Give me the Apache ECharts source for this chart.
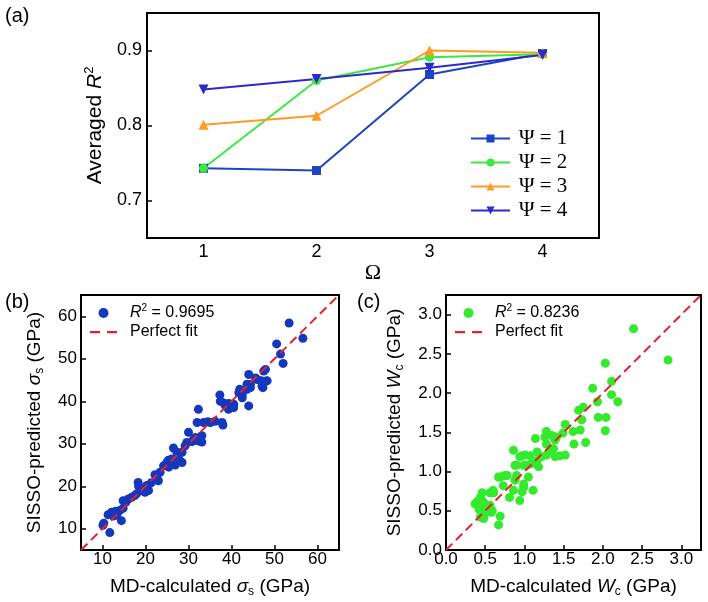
<!DOCTYPE html>
<html><head><meta charset="utf-8">
<script src="https://cdn.jsdelivr.net/npm/echarts@6/dist/echarts.min.js"></script>
<style>html,body{margin:0;padding:0;background:#fff}#c{width:708px;height:602px}</style>
</head><body><div id="c"></div>
<script>
// ---------- data ----------
const omega = ['1', '2', '3', '4'];
const psi1 = [0.743, 0.740, 0.868, 0.896];
const psi2 = [0.743, 0.860, 0.891, 0.895];
const psi3 = [0.801, 0.813, 0.900, 0.897];
const psi4 = [0.848, 0.862, 0.877, 0.894];
const psiNames = ['Ψ = 1', 'Ψ = 2', 'Ψ = 3', 'Ψ = 4'];
const ticksA = [0.7, 0.8, 0.9];

const mdSigma = [10.1,10.3,11.7,11.3,12.1,12.5,13.0,13.3,14.0,14.4,14.8,14.8,15.4,16.0,16.8,17.5,17.9,18.3,18.4,18.9,19.3,19.9,20.3,20.7,21.3,22.2,22.6,23.0,23.4,24.2,25.0,25.3,25.4,26.1,26.5,26.9,27.3,27.7,28.1,28.5,28.5,29.2,29.6,30.0,30.8,31.2,31.6,32.1,32.3,32.0,33.1,33.1,33.5,34.5,35.1,36.2,37.8,38.0,37.3,37.4,38.2,38.6,39.3,39.4,40.5,40.5,41.7,41.9,42.5,42.5,43.6,43.6,44.0,44.0,44.4,44.4,45.6,46.0,46.9,47.1,47.3,47.5,47.9,47.9,48.3,50.5,51.4,52.0,53.4,56.6];
const sissoSigma = [10.8,11.3,9.1,13.3,13.9,13.0,14.1,13.2,14.3,11.9,16.6,14.8,16.2,17.0,17.4,17.8,18.2,20.9,20.0,19.5,18.9,18.6,20.2,19.0,20.8,22.7,22.0,21.3,23.3,24.8,25.6,26.1,24.5,26.4,29.0,25.0,28.0,26.4,25.9,28.0,25.6,29.5,30.3,32.7,30.5,31.1,31.5,30.7,38.1,35.0,31.9,30.4,35.0,35.2,35.0,35.3,35.0,34.4,41.5,40.0,39.6,38.9,38.1,39.5,38.5,39.3,42.0,42.8,41.6,40.8,44.0,42.8,38.9,46.3,43.2,44.0,45.5,45.1,44.8,43.6,43.2,47.1,47.5,44.7,44.8,53.5,51.1,48.9,58.4,54.8];
const ticksB = [10, 20, 30, 40, 50, 60];
const fitB = [5, 65];

const mdW = [0.37,0.40,0.42,0.44,0.44,0.46,0.46,0.48,0.48,0.50,0.52,0.56,0.56,0.58,0.59,0.61,0.60,0.67,0.67,0.69,0.69,0.73,0.75,0.78,0.81,0.86,0.86,0.88,0.88,0.90,0.90,0.94,0.94,0.97,0.97,0.99,0.99,0.99,1.01,1.03,1.05,1.07,1.09,1.11,1.14,1.16,1.16,1.18,1.22,1.26,1.28,1.28,1.28,1.33,1.35,1.37,1.39,1.39,1.41,1.45,1.49,1.52,1.52,1.62,1.63,1.69,1.71,1.73,1.75,1.78,1.87,1.93,1.94,2.03,2.04,2.03,2.11,2.11,2.19,2.39,2.83];
const sissoW = [0.59,0.62,0.52,0.42,0.67,0.73,0.57,0.61,0.40,0.47,0.52,0.73,0.57,0.48,0.50,0.73,0.76,0.93,0.32,0.43,0.93,0.82,0.95,0.95,0.67,0.76,1.27,1.08,0.89,0.95,1.08,1.19,0.63,1.20,0.74,0.80,0.84,1.08,1.21,1.08,0.93,1.20,1.10,0.76,1.42,1.14,1.25,1.06,1.19,1.44,1.51,1.35,1.21,1.27,1.46,1.29,1.40,1.19,1.44,1.20,1.49,1.60,1.21,1.51,1.35,1.78,1.53,1.66,1.82,1.37,2.06,1.89,1.69,2.38,1.69,1.52,2.15,1.98,1.89,2.82,2.42];
const ticksC = [0, 0.5, 1.0, 1.5, 2.0, 2.5, 3.0];
const fitC = [0, 3.25];

// ---------- styles ----------
const SANS = "'Liberation Sans', Arial, sans-serif";
const SERIF = "'Liberation Serif', 'Times New Roman', serif";
const psiColors = ['#1f44c2', '#3ee83e', '#ff9a22', '#2b2bcc'];
const psiSymbols = ['rect', 'circle', 'triangle', 'triangle'];
const psiRotate = [0, 0, 0, 180];
const psiSizes = [9, 9, 10, 10];
const FIT_DASH = [9, 5];
const DASH_ICON = 'path://M0,0L0,0M0,4L10,4L10,6.2L0,6.2ZM17,4L27,4L27,6.2L17,6.2ZM27,10L27,10';

function richSet(size) {
  return {
    n: { fontFamily: SANS, fontSize: size, color: '#000', lineHeight: size + 4, verticalAlign: 'middle' },
    i: { fontFamily: SANS, fontSize: size, fontStyle: 'italic', color: '#000', lineHeight: size + 4, verticalAlign: 'middle' },
    s: { fontFamily: SANS, fontSize: Math.round(size * 0.62), color: '#000', lineHeight: Math.round(size * 0.62), verticalAlign: 'top' },
    b: { fontFamily: SANS, fontSize: Math.round(size * 0.62), color: '#000', lineHeight: Math.round(size * 0.62), verticalAlign: 'bottom' }
  };
}

function valueAxis(grid, min, max, ticks, fmt, name, gap, labelSize, nameSize, margin) {
  return {
    type: 'value', gridIndex: grid, min: min, max: max,
    axisLine: { show: true, lineStyle: { color: '#000', width: 2 } },
    axisTick: { show: true, inside: true, length: 5, customValues: ticks, lineStyle: { color: '#000', width: 1.5 } },
    axisLabel: { customValues: ticks, formatter: fmt, color: '#000', fontFamily: SANS, fontSize: labelSize, margin: margin },
    splitLine: { show: false },
    name: name, nameLocation: 'middle', nameGap: gap,
    nameTextStyle: { rich: richSet(nameSize) }
  };
}

const series = [];
[psi1, psi2, psi3, psi4].forEach((arr, k) => {
  series.push({
    name: psiNames[k], type: 'line', xAxisIndex: 0, yAxisIndex: 0,
    data: arr, symbol: psiSymbols[k], symbolSize: psiSizes[k], symbolRotate: psiRotate[k],
    showAllSymbol: true,
    lineStyle: { color: psiColors[k], width: 2 },
    itemStyle: { color: psiColors[k] },
    z: 3
  });
});
series.push({
  name: 'sB', type: 'scatter', xAxisIndex: 1, yAxisIndex: 1,
  data: mdSigma.map((v, i) => [v, sissoSigma[i]]),
  symbolSize: 9, itemStyle: { color: '#1438bd', opacity: 1 }, z: 2
});
series.push({
  name: 'fitB', type: 'line', xAxisIndex: 1, yAxisIndex: 1,
  data: fitB.map(v => [v, v]), symbol: 'none',
  lineStyle: { color: '#e8202a', width: 2, type: FIT_DASH },
  itemStyle: { color: '#e8202a' }, z: 4
});
series.push({
  name: 'sC', type: 'scatter', xAxisIndex: 2, yAxisIndex: 2,
  data: mdW.map((v, i) => [v, sissoW[i]]),
  symbolSize: 9, itemStyle: { color: '#33ea2e', opacity: 1 }, z: 2
});
series.push({
  name: 'fitC', type: 'line', xAxisIndex: 2, yAxisIndex: 2,
  data: fitC.map(v => [v, v]), symbol: 'none',
  lineStyle: { color: '#e8202a', width: 2, type: FIT_DASH },
  itemStyle: { color: '#e8202a' }, z: 4
});

const legendLabels = {
  sB: '{i|R}{s|2}{n| = 0.9695}',
  sC: '{i|R}{s|2}{n| = 0.8236}',
  fitB: '{n|Perfect fit}',
  fitC: '{n|Perfect fit}'
};

const gridStyle = { show: true, borderColor: '#000', borderWidth: 2, backgroundColor: 'transparent' };
const fitLegendItem = n => ({ name: n, icon: DASH_ICON, itemStyle: { color: '#e8202a' } });

const option = {
  animation: false,
  backgroundColor: '#fff',
  title: [
    { text: '(a)', left: 0, top: 1, textStyle: { fontFamily: SANS, fontSize: 20, fontWeight: 'normal', color: '#000' } },
    { text: '(b)', left: 0, top: 287, textStyle: { fontFamily: SANS, fontSize: 20, fontWeight: 'normal', color: '#000' } },
    { text: '(c)', left: 352, top: 287, textStyle: { fontFamily: SANS, fontSize: 20, fontWeight: 'normal', color: '#000' } }
  ],
  grid: [
    Object.assign({ left: 147, top: 13, width: 452, height: 225 }, gridStyle),
    Object.assign({ left: 81, top: 295, width: 258, height: 255 }, gridStyle),
    Object.assign({ left: 446, top: 295, width: 255, height: 255 }, gridStyle)
  ],
  xAxis: [
    {
      type: 'category', gridIndex: 0, data: omega, boundaryGap: true,
      axisLine: { lineStyle: { color: '#000', width: 2 } },
      axisTick: { inside: true, alignWithLabel: true, length: 5, lineStyle: { color: '#000', width: 1.5 } },
      axisLabel: { color: '#000', fontFamily: SANS, fontSize: 18, margin: 5 },
      name: 'Ω', nameLocation: 'middle', nameGap: 17,
      nameTextStyle: { fontFamily: SERIF, fontSize: 22, color: '#000' }
    },
    valueAxis(1, 5, 65, ticksB, v => String(v), '{n|MD-calculated }{i|σ}{b|s}{n| (GPa)}', 25, 17, 19, 1),
    valueAxis(2, 0, 3.25, ticksC, v => v.toFixed(1), '{n|MD-calculated }{i|W}{b|c}{n| (GPa)}', 25, 17, 19, 1)
  ],
  yAxis: [
    valueAxis(0, 0.65, 0.95, ticksA, v => v.toFixed(1), '{n|Averaged }{i|R}{s|2}', 38, 18, 21, 5),
    valueAxis(1, 5, 65, ticksB, v => String(v), '{n|SISSO-predicted }{i|σ}{b|s}{n| (GPa)}', 35, 17, 19, 4),
    valueAxis(2, 0, 3.25, ticksC, v => v.toFixed(1), '{n|SISSO-predicted }{i|W}{b|c}{n| (GPa)}', 40, 17, 19, 4)
  ],
  legend: [
    {
      data: psiNames, orient: 'vertical', left: 470, top: 128, padding: 0,
      itemWidth: 39, itemHeight: 10, itemGap: 3,
      textStyle: { fontFamily: SERIF, fontSize: 21, lineHeight: 21, color: '#000', padding: [0, 0, 0, 4] }
    },
    {
      data: ['sB', fitLegendItem('fitB')], orient: 'vertical', left: 90, top: 303, padding: 0,
      itemWidth: 27, itemHeight: 10, itemGap: 3,
      formatter: n => legendLabels[n],
      textStyle: { padding: [0, 0, 0, 8], rich: richSet(16) }
    },
    {
      data: ['sC', fitLegendItem('fitC')], orient: 'vertical', left: 455, top: 303, padding: 0,
      itemWidth: 27, itemHeight: 10, itemGap: 3,
      formatter: n => legendLabels[n],
      textStyle: { padding: [0, 0, 0, 8], rich: richSet(16) }
    }
  ],
  series: series
};

const chart = echarts.init(document.getElementById('c'), null, { renderer: 'canvas' });
chart.setOption(option);
</script>
</body></html>
